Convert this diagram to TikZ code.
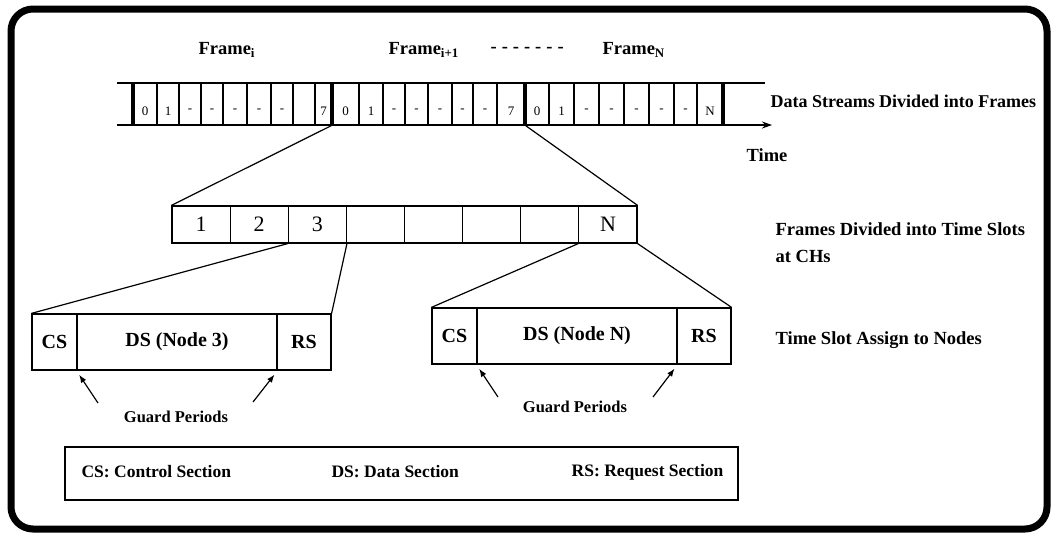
\documentclass[tikz,border=0pt]{standalone}
\usepackage{fontspec}
\setmainfont{Liberation Serif}
\usetikzlibrary{arrows.meta}

\begin{document}
\begin{tikzpicture}[x=1pt, y=-1pt, line width=1.2pt,
  cell/.style={draw, rectangle, minimum height=42pt, inner sep=0pt},
  bit/.style={font=\fontsize{13}{13}\selectfont, inner sep=0pt},
  slot/.style={draw, rectangle, minimum width=58.1pt, minimum height=37pt, inner sep=0pt, font=\fontsize{22}{22}\selectfont},
  part/.style={draw, rectangle, minimum height=56pt, inner sep=0pt, font=\fontsize{20}{20}\selectfont\bfseries},
  lbl/.style={font=\fontsize{18.5}{27}\selectfont\bfseries, inner sep=0pt},
  guard/.style={font=\fontsize{16.5}{16.5}\selectfont\bfseries, inner sep=0pt},
  gp/.style={-{Latex[length=8pt,width=6pt]}, shorten >=5pt}]

\useasboundingbox (0,0) rectangle (1055,539);
\draw[line width=7pt, rounded corners=22pt] (11,9) rectangle (1047,529);

% frame labels
\node[lbl, anchor=west] (fi) at (198,50) {Frame\textsubscript{i}};
\node[lbl, anchor=west] (fj) at (388,50) {Frame\textsubscript{i+1}};
\node[lbl, anchor=west] (fdots) at (490,50) {-\kern5pt-\kern5pt-\kern5pt-\kern5pt-\kern5pt-\kern5pt-};
\node[lbl, anchor=west] (fn) at (602,50) {Frame\textsubscript{N}};

% data stream
\coordinate (t0) at (117,125);
\coordinate (tend) at (772,125);
\draw (117,83) -- (765,83);
\draw[-{Stealth[length=10pt,width=7pt]}] (t0) -- (tend);
\foreach \l/\r/\t [count=\k] in {133/157/0, 157/179/1, 179/201/-, 201/223/-, 223/247/-, 247/271/-, 271/293/-, 293/315/{}, 315/332/7,
    332/359/0, 359/383/1, 383/405/-, 405/428/-, 428/452/-, 452/473/-, 473/497/-, 497/525/7,
    525/549/0, 549/574/1, 574/599/-, 599/624/-, 624/649/-, 649/674/-, 674/697/-, 697/723/N}{
  \pgfmathsetmacro\w{\r-\l}
  \node[cell, minimum width=\w pt] (s\k) at ({(\l+\r)/2},104) {};
  \node[bit] (b\k) at ({(\l+\r)/2},111) {\t};
}
\foreach \x in {133,332,525,723}
  \draw[line width=3.5pt] (\x,83) -- (\x,125);

\node[lbl, font=\fontsize{18}{27}\selectfont\bfseries, anchor=west] (streams) at (770,101) {Data Streams Divided into Frames};
\node[lbl, anchor=west] (time) at (746,155) {Time};

% time slots
\foreach \t [count=\k] in {1,2,3,{},{},{},{},N}
  \node[slot] (t\k) at ({172+58.125*(\k-0.5)},224.5) {\t};

\draw (s10.south west) -- (t1.north west);
\draw (s17.south east) -- (t8.north east);

\node[lbl, anchor=west, align=left] (slots) at (775,243) {Frames Divided into Time Slots\\at CHs};

% slot contents
\node[part, minimum width=45pt] (cs3) at (54.5,342) {CS};
\node[part, minimum width=200pt] (ds3) at (177,342) {DS (Node 3)};
\node[part, minimum width=54pt] (rs3) at (304,342) {RS};

\node[part, minimum width=45pt] (csN) at (454.5,336) {CS};
\node[part, minimum width=200pt] (dsN) at (577,336) {DS (Node N)};
\node[part, minimum width=54pt] (rsN) at (704,336) {RS};

\draw (t3.south west) -- (cs3.north west);
\draw (t3.south east) -- (rs3.north east);
\draw (t8.south west) -- (csN.north west);
\draw (t8.south east) -- (rsN.north east);

\node[lbl, anchor=west] (assign) at (775,340) {Time Slot Assign to Nodes};

% guard periods
\node[guard] (gp3) at (176,417) {Guard Periods};
\node[guard] (gpN) at (575,407) {Guard Periods};
\coordinate (g3a) at (98,403);
\coordinate (g3b) at (253,402);
\coordinate (gNa) at (498,397);
\coordinate (gNb) at (653,397);
\draw[gp] (g3a) -- (ds3.south west);
\draw[gp] (g3b) -- (ds3.south east);
\draw[gp] (gNa) -- (dsN.south west);
\draw[gp] (gNb) -- (dsN.south east);

% legend
\node[draw, rectangle, minimum width=673pt, minimum height=53pt, inner sep=0pt] (legend) at (401.5,473.5) {};
\node[guard, font=\fontsize{17.5}{17.5}\selectfont\bfseries, anchor=west] (lcs) at (81,472) {CS: Control Section};
\node[guard, font=\fontsize{17.5}{17.5}\selectfont\bfseries, anchor=west] (lds) at (331,472) {DS: Data Section};
\node[guard, font=\fontsize{17.5}{17.5}\selectfont\bfseries, anchor=east] (lrs) at (724,472) {RS: Request Section};

\end{tikzpicture}
\end{document}
